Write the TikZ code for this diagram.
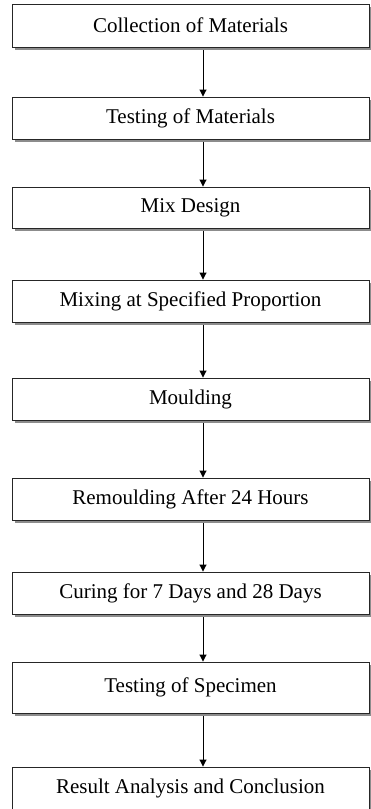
\documentclass[tikz,border=0pt]{standalone}
\usepackage{fontspec}
\setmainfont{Liberation Serif}
\usetikzlibrary{arrows.meta,shadows}

\tikzset{
  stage/.style={draw=black!85,fill=white,line width=0.9pt,minimum width=357pt,
    inner sep=0pt,font=\fontsize{21}{24}\selectfont,
    drop shadow={shadow xshift=2.5pt,shadow yshift=-2.5pt,fill=black!45,opacity=1}},
  flow/.style={draw=black,line width=0.9pt,shorten <=3pt,
    -{Triangle[width=7pt,length=7pt]}}
}

\begin{document}
\begin{tikzpicture}[x=1pt,y=-1pt]
  \useasboundingbox (0,0) rectangle (370,809);
  \coordinate (axis) at (203,0);   % arrows run down this line

% process stages
  \node[stage,minimum height=43pt] (collect)  at (190.5,25.5) {Collection of Materials};
  \node[stage,minimum height=42pt] (testmat)  at (190.5,118)  {Testing of Materials};
  \node[stage,minimum height=41pt] (design)   at (190.5,207.5) {Mix Design};
  \node[stage,minimum height=42pt] (mixing)   at (190.5,301)  {Mixing at Specified Proportion};
  \node[stage,minimum height=42pt] (mould)    at (190.5,399)  {Moulding};
  \node[stage,minimum height=42pt] (remould)  at (190.5,499)  {Remoulding After 24 Hours};
  \node[stage,minimum height=42pt] (curing)   at (190.5,593)  {Curing for 7 Days and 28 Days};
  \node[stage,minimum height=51pt] (testspec) at (190.5,687.5) {Testing of Specimen};
  \node[stage,minimum height=43pt] (result)   at (190.5,788.5) {Result Analysis and Conclusion};

% connectors
  \foreach \a/\b in {collect/testmat,testmat/design,design/mixing,mixing/mould,
                     mould/remould,remould/curing,curing/testspec,testspec/result}
    \draw[flow] (\a.south -| axis) -- (\b.north -| axis);

\end{tikzpicture}
\end{document}
